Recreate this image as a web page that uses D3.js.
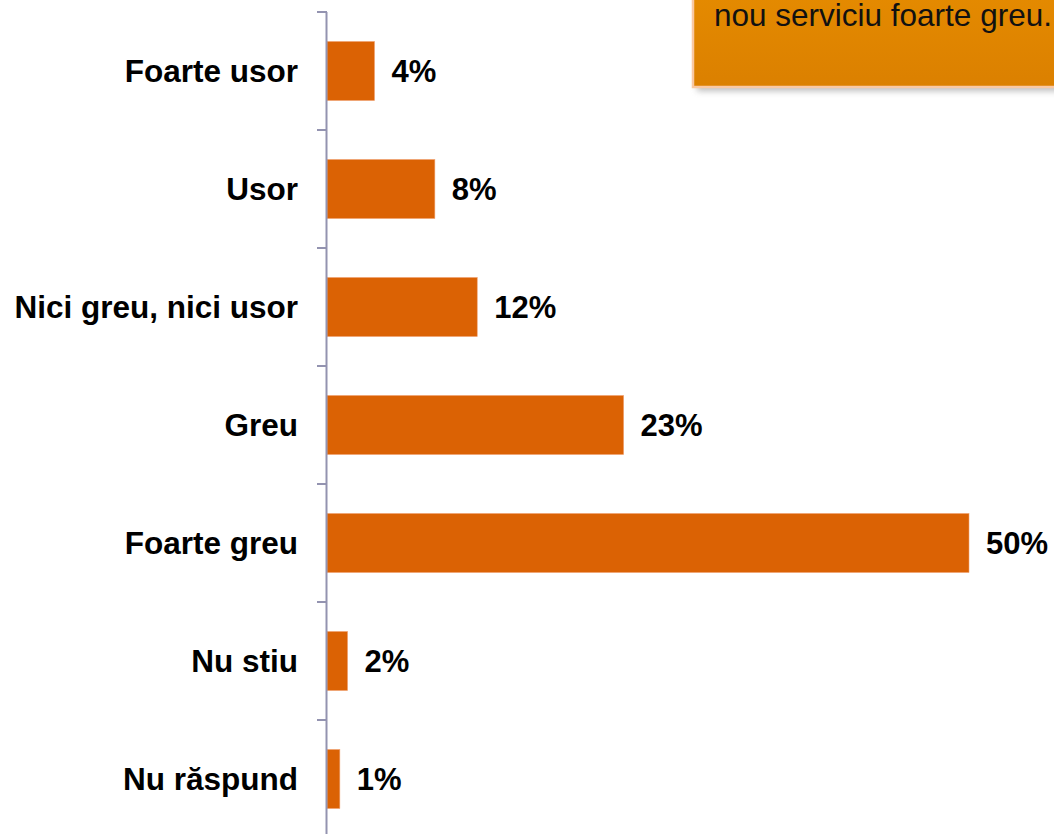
<!DOCTYPE html>
<html>
<head>
<meta charset="utf-8">
<script src="https://cdn.jsdelivr.net/npm/d3@7"></script>
<style>
  body { margin: 0; background: #fff; }
  svg { display: block; font-family: "Liberation Sans", Arial, sans-serif; }
</style>
</head>
<body>
<svg id="chart" width="1054" height="834"></svg>
<script>
var categories = ["Foarte usor", "Usor", "Nici greu, nici usor", "Greu", "Foarte greu", "Nu stiu", "Nu răspund"];
// shares; labels show them rounded
var values = [3.7, 8.4, 11.7, 23.1, 50, 1.6, 1.0];
var noteText = "nou serviciu foarte greu.";

var svg = d3.select("#chart");
var x0 = 327;
var fmt = d3.format(".0f");

var x = d3.scaleLinear().domain([0, 50]).range([x0, 969]);
var y = d3.scaleBand().domain(categories).range([12, 838]).paddingInner(0.5).paddingOuter(0.25);

var defs = svg.append("defs");
var grad = defs.append("linearGradient").attr("id", "boxGrad")
    .attr("x1", 0).attr("y1", 0).attr("x2", 0).attr("y2", 1);
grad.append("stop").attr("offset", "0%").attr("stop-color", "#e88e00");
grad.append("stop").attr("offset", "100%").attr("stop-color", "#db8000");
var blur = defs.append("filter").attr("id", "shadow")
    .attr("x", "-10%").attr("y", "-10%").attr("width", "130%").attr("height", "140%");
blur.append("feGaussianBlur").attr("stdDeviation", 3);

// note box (top right, cut off by page edge)
svg.append("rect")
    .attr("x", 697).attr("y", -40).attr("width", 400).attr("height", 131)
    .attr("fill", "#a0a0a0").attr("opacity", 0.7)
    .attr("filter", "url(#shadow)");
svg.append("rect")
    .attr("x", 693).attr("y", -40).attr("width", 400).attr("height", 127)
    .attr("fill", "url(#boxGrad)")
    .attr("stroke", "#f9c9a4").attr("stroke-width", 2.5);
svg.append("text")
    .attr("x", 714).attr("y", 26)
    .attr("font-size", 31.5).attr("fill", "#111")
    .text(noteText);

// bars
svg.selectAll(".bar")
    .data(values)
    .enter().append("rect")
    .attr("class", "bar")
    .attr("x", x0)
    .attr("y", (d, i) => y(categories[i]))
    .attr("width", d => x(d) - x0)
    .attr("height", y.bandwidth())
    .attr("fill", "#db6204")
    .attr("stroke", "#f0a070").attr("stroke-width", 0.6);

// value labels
svg.selectAll(".val")
    .data(values)
    .enter().append("text")
    .attr("class", "val")
    .attr("x", d => x(d) + 17)
    .attr("y", (d, i) => y(categories[i]) + y.bandwidth() / 2)
    .attr("dy", "0.36em")
    .attr("font-size", 31).attr("font-weight", "bold").attr("fill", "#000")
    .text(d => fmt(d) + "%");

// category axis with ticks at band boundaries
var axis = svg.append("g");
axis.append("line")
    .attr("x1", x0 - 0.5).attr("x2", x0 - 0.5)
    .attr("y1", 12).attr("y2", 838)
    .attr("stroke", "#9393b0").attr("stroke-width", 2);
var bounds = d3.range(categories.length + 1).map(i => y.range()[0] + i * y.step());
axis.selectAll(".tick")
    .data(bounds)
    .enter().append("line")
    .attr("x1", 317).attr("x2", x0)
    .attr("y1", d => d).attr("y2", d => d)
    .attr("stroke", "#9393b0").attr("stroke-width", 2);

axis.selectAll(".cat")
    .data(categories)
    .enter().append("text")
    .attr("x", 298)
    .attr("y", d => y(d) + y.bandwidth() / 2)
    .attr("dy", "0.36em")
    .attr("text-anchor", "end")
    .attr("font-size", 31.5).attr("font-weight", "bold").attr("fill", "#000")
    .text(d => d);
</script>
</body>
</html>
